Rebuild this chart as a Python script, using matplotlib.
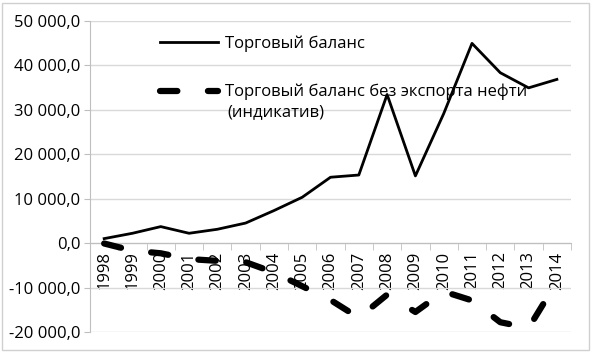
import matplotlib
matplotlib.use('Agg')
import matplotlib.pyplot as plt
from matplotlib.patches import Rectangle
from matplotlib.ticker import FuncFormatter
import numpy as np

years = [str(y) for y in range(1998, 2015)]
trade_balance = [1000, 2200, 3700, 2200, 3100, 4500, 7300, 10300, 14800, 15300,
                 33400, 15100, 29100, 44900, 38300, 34900, 36800]
trade_balance_no_oil = [-100, -1700, -2300, -3600, -4000, -4300, -6600, -9700, -12800,
                        -16800, -11600, -15500, -10900, -12900, -17800, -19100, -8700]
y_ticks = [-20000, -10000, 0, 10000, 20000, 30000, 40000, 50000]

label_total = "Торговый баланс"
label_no_oil = "Торговый баланс без экспорта нефти"
label_no_oil_2 = "(индикатив)"

plt.rcParams['font.family'] = ['Open Sans', 'DejaVu Sans']
plt.rcParams['lines.scale_dashes'] = False

fig = plt.figure(figsize=(5.91, 3.52), dpi=100)
ax = fig.add_axes([0.1523, 0.0568, 0.8139, 0.8844])
x = np.arange(len(years))

gray = '#bfbfbf'
l1, = ax.plot(x, trade_balance, color='black', lw=2.0, label=label_total, zorder=3)
l2, = ax.plot(x, trade_balance_no_oil, color='black', lw=4.5, dashes=(12.5, 22),
              dash_capstyle='round', label=label_no_oil, zorder=3)

ax.set_xlim(-0.5, len(years) - 0.5)
ax.set_ylim(-20000, 50000)
ax.set_yticks(y_ticks)
ax.yaxis.set_major_formatter(FuncFormatter(
    lambda v, p: f"{v:,.1f}".replace(',', ' ').replace('.', ',')))
ax.grid(axis='y', color='#d9d9d9', lw=1.0, zorder=0)
ax.tick_params(axis='y', length=4, color=gray, labelsize=12, pad=3)

ax.set_xticks(x)
ax.set_xticklabels(years)
ax.set_xticks(np.arange(-0.5, len(years)), minor=True)
ax.tick_params(axis='x', which='major', length=0, labelsize=12, pad=6, labelrotation=90)
ax.tick_params(axis='x', which='minor', length=5, color=gray, direction='out')

for s in ['top', 'right']:
    ax.spines[s].set_visible(False)
ax.spines['left'].set_color(gray)
ax.spines['bottom'].set_color(gray)
ax.spines['bottom'].set_position(('data', 0))

leg = ax.legend(handles=[l1, l2], loc='upper left', frameon=False, fontsize=12,
                bbox_to_anchor=(160 / 591, 1 - 35 / 352), bbox_transform=fig.transFigure,
                borderpad=0, borderaxespad=0, handlelength=3.5, handletextpad=0.4,
                labelspacing=1.95)
fig.text(227 / 591, 1 - 112 / 352, label_no_oil_2, fontsize=12, va='center', ha='left')

fig.patches.append(Rectangle((0.004, 0.006), 0.992, 0.986, transform=fig.transFigure,
                             fill=False, edgecolor='#d0d0d0', lw=1))

fig.savefig('out.png', dpi=100)
